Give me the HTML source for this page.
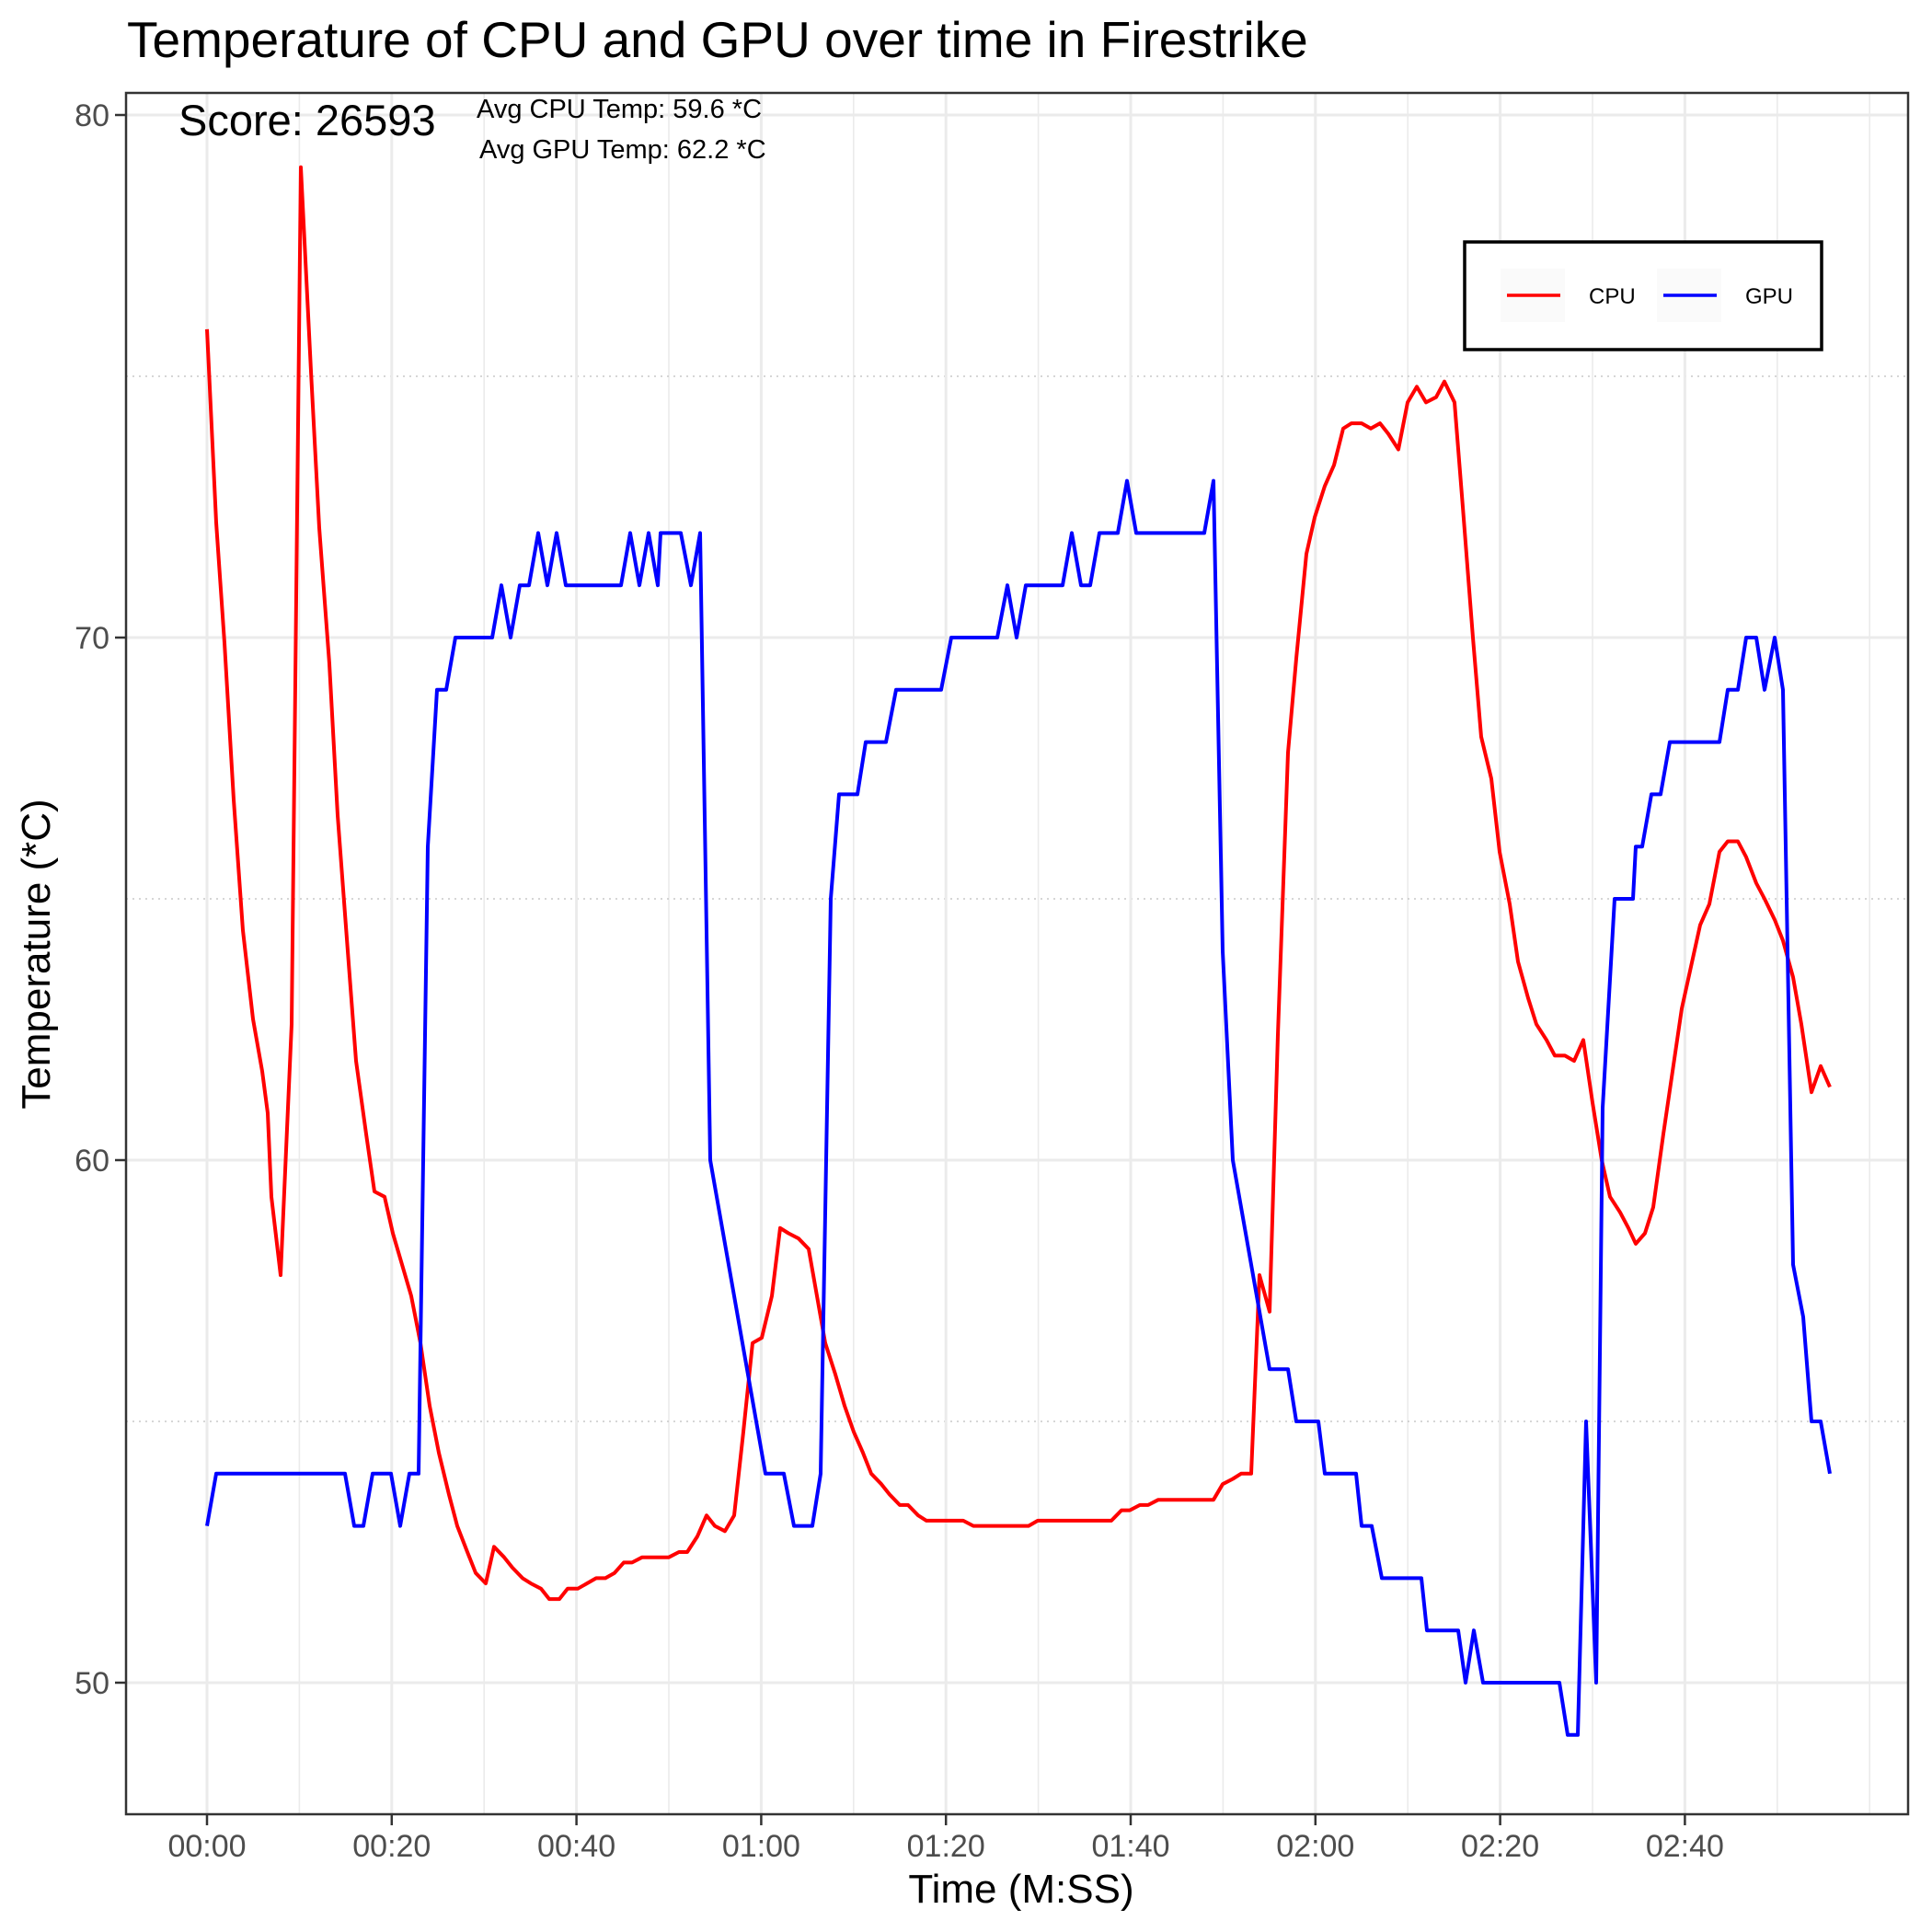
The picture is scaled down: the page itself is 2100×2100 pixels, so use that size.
<!DOCTYPE html>
<html><head><meta charset="utf-8"><style>
html,body{margin:0;padding:0;background:#fff}
svg{display:block;font-family:"Liberation Sans",Arial,sans-serif}
</style></head><body>
<svg id="chart" width="2100" height="2100" viewBox="0 0 2100 2100" xmlns="http://www.w3.org/2000/svg">
<rect width="2100" height="2100" fill="#fff"/>
<g id="grid"></g>
<g id="series"></g>
<rect x="137" y="101" width="1937" height="1871" fill="none" stroke="#333" stroke-width="2.5"/>
<g id="axes"></g>
<text x="138" y="62" font-size="55" fill="#000">Temperature of CPU and GPU over time in Firestrike</text>
<text x="194" y="147" font-size="47" fill="#000">Score: 26593</text>
<text x="518" y="128" font-size="29" fill="#000">Avg CPU Temp: 59.6 *C</text>
<text x="521" y="172" font-size="29" fill="#000">Avg GPU Temp: 62.2 *C</text>
<text x="1110" y="2068" font-size="44" text-anchor="middle" fill="#000">Time (M:SS)</text>
<text transform="translate(54,1037) rotate(-90)" font-size="44" text-anchor="middle" fill="#000">Temperature (*C)</text>
<g transform="translate(-7,0)">
<rect x="1599" y="263" width="388" height="117" fill="#fff" stroke="#000" stroke-width="3.5"/>
<rect x="1638" y="292" width="70" height="58" fill="#fafafa"/>
<line x1="1645" y1="321" x2="1703" y2="321" stroke="#f00" stroke-width="3.5"/>
<text x="1734" y="330" font-size="24">CPU</text>
<rect x="1808" y="292" width="70" height="58" fill="#fafafa"/>
<line x1="1815" y1="321" x2="1873" y2="321" stroke="#00f" stroke-width="3.5"/>
<text x="1904" y="330" font-size="24">GPU</text>
</g>
</svg>
<script>
const cpuTimes=[0,1,1.9,2.9,3.9,5,6,6.6,7,8,9.2,10.2,11.3,12.2,13.3,14.2,15.3,16.2,17.3,18.2,19.3,20.2,21.2,22.2,23.2,24.2,25.2,26.3,27.2,28.3,29.2,30.3,31.2,32.3,33.2,34.3,35.2,36.3,37.2,38.3,39.2,40.3,41.3,42.3,43.3,44.3,45.3,46.2,47.3,48.2,49.3,50.2,51.3,52.2,53.3,54.3,55.2,56.3,57.3,58.3,59.3,60.3,61.4,62.3,63.2,64.3,65.4,66.3,67.2,68.3,69.3,70.3,71.3,72.2,73.3,74.2,75.3,76.2,77.3,78.2,82.2,83.3,89.3,90.3,98.3,99.4,100.3,101.4,102.3,103.4,109.4,110.4,111.5,112.4,113.5,114.4,115.5,116.4,117.5,118.4,119.5,120.4,121.5,122.5,123.5,124.4,125.5,126.5,127.5,128.4,129.5,130.5,131.5,132.5,133.6,134.5,135.6,136.5,137.6,138.5,139.6,140.5,141.6,142.5,143.6,144.5,145.6,146.5,147.6,148.6,149.6,150.6,151.6,152.5,153.6,154.5,155.3,156.3,157.2,158.3,159.3,160.3,161.3,162.3,163.3,164.4,165.3,166.4,167.3,168.4,169.3,170.4,171.3,172.4,173.3,174.4,175.4,176.4];
const cpuTemps=[75.9,72.2,69.9,66.9,64.4,62.7,61.7,60.9,59.3,57.8,62.6,79.0,75.1,72.1,69.5,66.6,64.0,61.9,60.5,59.4,59.3,58.6,58.0,57.4,56.5,55.3,54.4,53.6,53.0,52.5,52.1,51.9,52.6,52.4,52.2,52.0,51.9,51.8,51.6,51.6,51.8,51.8,51.9,52.0,52.0,52.1,52.3,52.3,52.4,52.4,52.4,52.4,52.5,52.5,52.8,53.2,53.0,52.9,53.2,54.8,56.5,56.6,57.4,58.7,58.6,58.5,58.3,57.4,56.5,55.9,55.3,54.8,54.4,54.0,53.8,53.6,53.4,53.4,53.2,53.1,53.1,53.0,53.0,53.1,53.1,53.3,53.3,53.4,53.4,53.5,53.5,53.8,53.9,54.0,54.0,57.8,57.1,62.4,67.8,69.6,71.6,72.3,72.9,73.3,74.0,74.1,74.1,74.0,74.1,73.9,73.6,74.5,74.8,74.5,74.6,74.9,74.5,72.5,70.0,68.1,67.3,65.9,64.9,63.8,63.1,62.6,62.3,62.0,62.0,61.9,62.3,61.1,60.0,59.3,59.0,58.7,58.4,58.6,59.1,60.5,61.7,62.9,63.7,64.5,64.9,65.9,66.1,66.1,65.8,65.3,65.0,64.6,64.2,63.5,62.6,61.3,61.8,61.4];
const gpuTimes=[0,1,15,16,17,18,20,21,22,23,24,25,26,27,31,32,33,34,35,36,37,38,39,45,46,47,48,49,49.3,51.5,52.6,53.6,54.7,60.7,62.7,63.8,65.8,66.7,67.8,68.7,70.7,71.6,73.8,74.9,79.8,80.9,85.9,87,88,89,93,94,95,96,97,99,100,101,108.4,109.4,110.4,111.5,115.5,117.5,118.4,120.8,121.5,124.9,125.5,126.6,127.7,132,132.6,136,136.8,137.7,138.7,147,147.9,149,149.9,151,151.7,153,155,155.3,156,157,158,159,164.4,165.3,166.4,167.3,168.4,169.3,170.4,171.3,172.4,173.5,174.4,175.4,176.4];
const gpuTemps=[53,54,54,53,53,54,54,53,54,54,66,69,69,70,70,71,70,71,71,72,71,72,71,71,72,71,72,71,72,72,71,72,60,54,54,53,53,54,65,67,67,68,68,69,69,70,70,71,70,71,71,72,71,71,72,72,73,72,72,73,64,60,56,56,55,55,54,54,53,53,52,52,51,51,50,51,50,50,49,49,55,50,61,65,65,66,66,67,67,68,68,69,69,70,70,69,70,69,58,57,55,55,54];
const yTicks=[50,60,70,80];
const yMinor=[55,65,75];
const xTickSecs=[0,20,40,60,80,100,120,140,160];
const xTickLabels=["00:00","00:20","00:40","01:00","01:20","01:40","02:00","02:20","02:40"];
const xMinorSecs=[10,30,50,70,90,110,130,150,170,180];

const NS="http://www.w3.org/2000/svg";
const PL=137,PR=2074,PT=101,PB=1972;
function xs(t){return 225+t*10.0;}
function ys(v){return 125+(80-v)*56.8;}
function xt(t){return 225+t*10.04;}
function mk(tag,attrs,parent){const e=document.createElementNS(NS,tag);for(const k in attrs)e.setAttribute(k,attrs[k]);parent.appendChild(e);return e;}
const grid=document.getElementById('grid'),axes=document.getElementById('axes'),series=document.getElementById('series');
xMinorSecs.forEach(s=>{const l=mk('line',{x1:xt(s),x2:xt(s),y1:PT,y2:PB,stroke:'#ebebeb','stroke-width':1.6},grid);

});
yMinor.forEach(v=>{const l=mk('line',{x1:PL,x2:PR,y1:ys(v),y2:ys(v),stroke:'#c8c8c8','stroke-width':1.4,'stroke-dasharray':'2 5'},grid);

});
xTickSecs.forEach((s,i)=>{const l=mk('line',{x1:xt(s),x2:xt(s),y1:PT,y2:PB,stroke:'#ebebeb','stroke-width':3},grid);


const t=mk('line',{x1:xt(s),x2:xt(s),y1:PB,y2:PB+12,stroke:'#333','stroke-width':2.5},axes);


const tx=mk('text',{x:xt(s),y:2018,'font-size':34,'text-anchor':'middle',fill:'#4d4d4d'},axes);tx.textContent=xTickLabels[i];

});
yTicks.forEach(v=>{const l=mk('line',{x1:PL,x2:PR,y1:ys(v),y2:ys(v),stroke:'#ebebeb','stroke-width':3},grid);


const t=mk('line',{x1:PL-12,x2:PL,y1:ys(v),y2:ys(v),stroke:'#333','stroke-width':2.5},axes);


const tx=mk('text',{x:PL-18,y:ys(v)+12,'font-size':34,'text-anchor':'end',fill:'#4d4d4d'},axes);tx.textContent=v;

});
function path(ts,vs){return ts.map((t,i)=>(i?'L':'M')+xs(t).toFixed(1)+','+ys(vs[i]).toFixed(1)).join(' ');}
const cpu=mk('path',{d:path(cpuTimes,cpuTemps),fill:'none',stroke:'#f00','stroke-width':4,'stroke-linejoin':'round'},series);


const gpu=mk('path',{d:path(gpuTimes,gpuTemps),fill:'none',stroke:'#00f','stroke-width':4,'stroke-linejoin':'round'},series);


</script>
</body></html>
